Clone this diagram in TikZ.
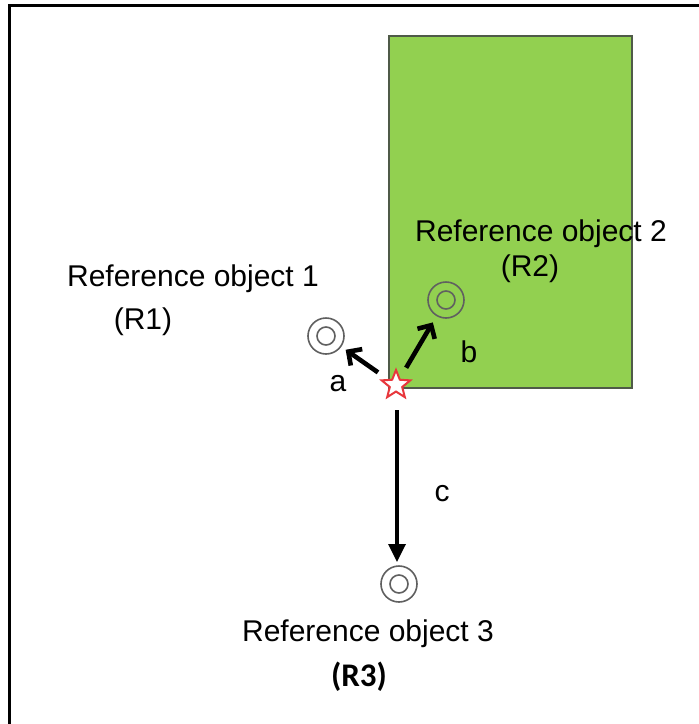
\documentclass[tikz,border=0pt]{standalone}
\usepackage{fontspec}
\setmainfont{Liberation Sans}
\newfontfamily\calib{Carlito}
\usetikzlibrary{shapes.geometric,arrows.meta}
\definecolor{leaf}{HTML}{92D050}
\definecolor{rim}{HTML}{4F5A48}
\definecolor{ring}{HTML}{606060}
\definecolor{starred}{HTML}{E8373C}
\tikzset{
  lbl/.style={inner sep=0pt,font=\fontsize{30}{35}\selectfont},
  outring/.style={circle,draw=ring,line width=1.6pt,minimum size=36pt,inner sep=0pt},
  inring/.style={circle,draw=ring,line width=1.6pt,minimum size=18pt,inner sep=0pt},
  barb/.style={line width=4.6pt,-{Straight Barb[length=10pt,width=20pt]}},
  tri/.style={line width=3.4pt,-{Triangle[length=18pt,width=17pt]}},
}
\begin{document}
\begin{tikzpicture}[x=1pt,y=-1pt]
\useasboundingbox (0,0) rectangle (699,724);
\fill[white] (0,0) rectangle (699,724);
% frame
\draw[line width=3pt] (9,724) -- (9,5) -- (699,5);
% green block
\node[draw=rim,fill=leaf,line width=2pt,minimum width=243pt,minimum height=352pt,inner sep=0pt,anchor=north west] (block) at (388,35) {};
% reference objects
\node[outring] (r1) at (326,336) {};
\node[inring] (r1in) at (r1) {};
\node[outring] (r2) at (446,300) {};
\node[inring] (r2in) at (r2) {};
\node[outring] (r3) at (399,584) {};
\node[inring] (r3in) at (r3) {};
% star
\node[star,star points=5,star point ratio=2.3,draw=starred,fill=white,line width=2pt,minimum size=30pt,inner sep=0pt] (me) at (396,385) {};
% arrows
\draw[barb,shorten <=22pt,shorten >=24pt] (me.center) -- (r1.center);
\draw[barb,shorten <=20pt,shorten >=26pt] (me.center) -- (r2.center);
\draw[tri,shorten <=25pt,shorten >=22pt] (397,385) -- (397,584);
% labels
\node[lbl] (t1) at (193,279) {Reference object 1};
\node[lbl] (t1b) at (143,322) {(R1)};
\node[lbl] (t2) at (541,234) {Reference object 2};
\node[lbl] (t2b) at (530,269) {(R2)};
\node[lbl] (t3) at (368,634) {Reference object 3};
\node[inner sep=0pt,font=\calib\bfseries\fontsize{33}{38}\selectfont] (t3b) at (359,677) {(R3)};
\node[lbl] (la) at (338,384) {a};
\node[lbl] (lb) at (469,352) {b};
\node[lbl] (lc) at (442,494) {c};
\end{tikzpicture}
\end{document}
